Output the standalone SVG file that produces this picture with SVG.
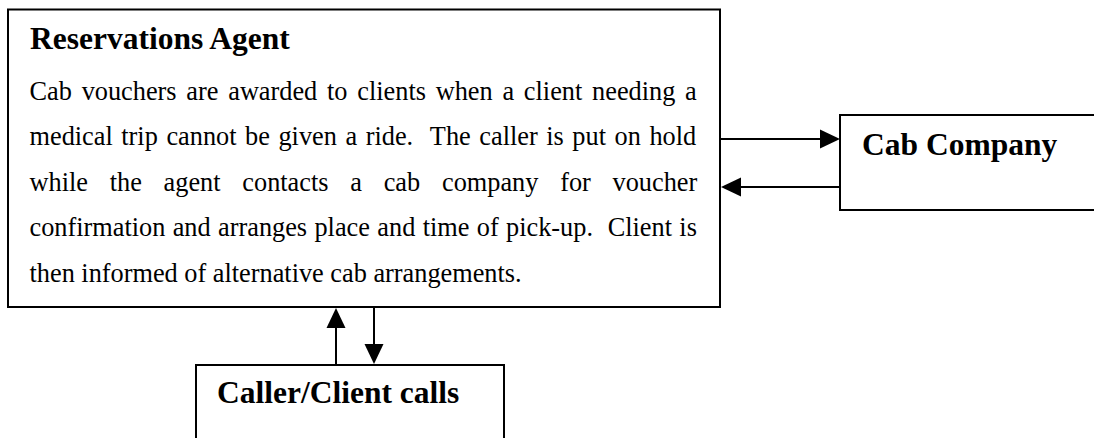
<svg xmlns="http://www.w3.org/2000/svg" width="1094" height="438" viewBox="0 0 1094 438">
  <style>
    .box { fill: #ffffff; stroke: #000000; stroke-width: 2; }
    .title { font-family: "Liberation Serif", "Times New Roman", serif; font-weight: bold; font-size: 31.5px; fill: #000000; }
    .body { font-family: "Liberation Serif", "Times New Roman", serif; font-size: 26.3px; fill: #000000; }
    .link { stroke: #000000; stroke-width: 2; fill: none; }
    .head { fill: #000000; stroke: none; }
  </style>
  <rect width="1094" height="438" fill="#ffffff"/>

  <!-- Reservations Agent -->
  <g id="reservations-agent">
    <rect class="box" x="8" y="9.5" width="712" height="297.5"/>
    <text class="title" x="30" y="49">Reservations Agent</text>
    <text class="body" xml:space="preserve" x="29.5" y="99.5" word-spacing="3.2">Cab vouchers are awarded to clients when a client needing a</text>
    <text class="body" xml:space="preserve" x="29.5" y="145" word-spacing="2">medical trip cannot be given a ride.  The caller is put on hold</text>
    <text class="body" xml:space="preserve" x="29.5" y="190.5" word-spacing="15.2">while the agent contacts a cab company for voucher</text>
    <text class="body" xml:space="preserve" x="29.5" y="236" word-spacing="0.8">confirmation and arranges place and time of pick-up.  Client is</text>
    <text class="body" xml:space="preserve" x="29.5" y="282">then informed of alternative cab arrangements.</text>
  </g>

  <!-- Cab Company -->
  <g id="cab-company">
    <rect class="box" x="840" y="115" width="260" height="95"/>
    <text class="title" x="862" y="155">Cab Company</text>
  </g>

  <!-- Caller/Client calls -->
  <g id="caller-client">
    <rect class="box" x="196" y="365" width="308" height="80"/>
    <text class="title" x="217" y="403">Caller/Client calls</text>
  </g>

  <!-- Connectors -->
  <g id="connectors">
    <line class="link" x1="720" y1="139" x2="822" y2="139"/>
    <polygon class="head" points="840,139 820,129.5 820,148.5"/>
    <line class="link" x1="840" y1="187" x2="738" y2="187"/>
    <polygon class="head" points="721,187 741,177.5 741,196.5"/>
    <line class="link" x1="336" y1="365" x2="336" y2="325"/>
    <polygon class="head" points="336,308 326.5,328 345.5,328"/>
    <line class="link" x1="374" y1="308" x2="374" y2="347"/>
    <polygon class="head" points="374,364 364.5,344 383.5,344"/>
  </g>
</svg>
